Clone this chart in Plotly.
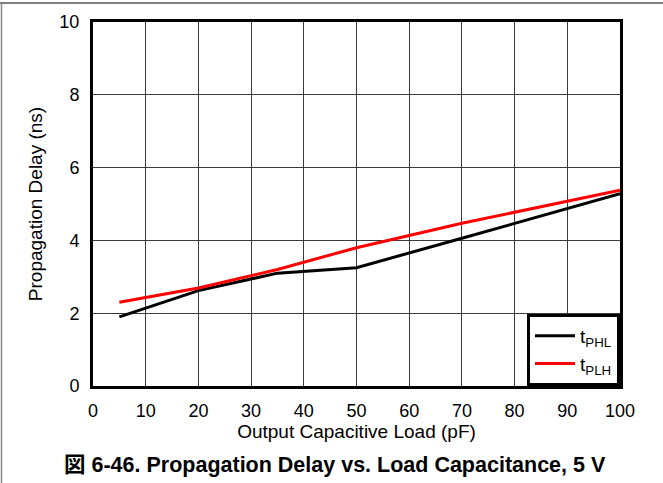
import plotly.graph_objects as go

load_pf = [5, 20, 35, 50, 70, 100]
tphl_ns = [1.9, 2.62, 3.1, 3.25, 4.06, 5.28]
tplh_ns = [2.3, 2.69, 3.2, 3.8, 4.47, 5.38]

x_ticks = [0, 10, 20, 30, 40, 50, 60, 70, 80, 90, 100]
y_ticks = [0, 2, 4, 6, 8, 10]

FONT = "Liberation Sans, Arial, sans-serif"
L, R, T, B = 93, 43, 22, 97
PW = 663 - L - R
PH = 483 - T - B

fig = go.Figure()
fig.add_trace(go.Scatter(x=load_pf, y=tphl_ns, mode="lines", name="t<sub>PHL</sub>",
                         line=dict(color="black", width=3)))
fig.add_trace(go.Scatter(x=load_pf, y=tplh_ns, mode="lines", name="t<sub>PLH</sub>",
                         line=dict(color="#ff0000", width=3)))

fig.update_layout(
    width=663, height=483,
    margin=dict(l=L, r=R, t=T, b=B),
    paper_bgcolor="white", plot_bgcolor="white",
    font=dict(family=FONT, size=18, color="black"),
    showlegend=True,
    legend=dict(x=1, y=0, xanchor="right", yanchor="bottom",
                bgcolor="white", bordercolor="black", borderwidth=3,
                font=dict(size=19), itemwidth=40, tracegroupgap=0),
    xaxis=dict(range=[0, 100], tickvals=x_ticks, ticks="", showgrid=True,
               gridcolor="#3a3a3a", gridwidth=1, showline=True, linecolor="black",
               linewidth=3, mirror=True, zeroline=False, ticklabelstandoff=6,
               tickfont=dict(size=18),
               title=dict(text="Output Capacitive Load (pF)", standoff=2,
                          font=dict(size=19))),
    yaxis=dict(range=[0, 10], tickvals=y_ticks, ticks="", showgrid=True,
               gridcolor="#3a3a3a", gridwidth=1, showline=True, linecolor="black",
               linewidth=3, mirror=True, zeroline=False, ticklabelstandoff=7,
               tickfont=dict(size=18),
               title=dict(text="Propagation Delay (ns)", standoff=12,
                          font=dict(size=19))),
    annotations=[dict(text="<b>図 6-46. Propagation Delay vs. Load Capacitance, 5 V</b>",
                      xref="paper", yref="paper", x=(335 - L) / PW, y=0,
                      xanchor="center", yanchor="middle", yshift=-(465 - 386),
                      showarrow=False,
                      font=dict(size=21.5, family="Liberation Sans, Noto Sans CJK JP, sans-serif"))],
    shapes=[
        dict(type="line", xref="paper", yref="paper", x0=-L / PW, x1=1 + R / PW,
             y0=1 + (T - 3) / PH, y1=1 + (T - 3) / PH, line=dict(color="#555555", width=1.5)),
        dict(type="line", xref="paper", yref="paper", x0=-(L - 1.5) / PW, x1=-(L - 1.5) / PW,
             y0=1 + (T - 3) / PH, y1=-B / PH, line=dict(color="#888888", width=1.5)),
    ],
)

fig.write_html("out.html", config={"displayModeBar": False},
               post_script="document.body.style.margin='0';")
